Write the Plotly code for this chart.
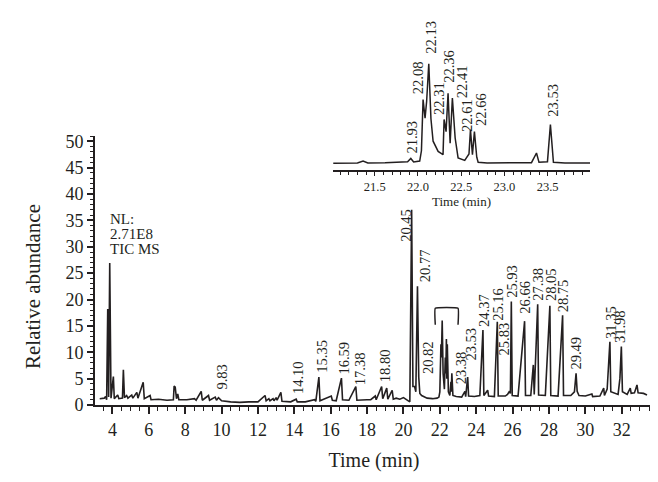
import plotly.graph_objects as go

# ---------------- data ----------------
main_rt = [3.30, 3.55, 3.62, 3.68, 3.74, 3.79, 3.85, 3.92, 4.05, 4.10, 4.29, 4.35, 4.55, 4.60, 4.66,
           4.78, 4.85, 5.06, 5.12, 5.34, 5.40, 5.69, 5.75, 6.07, 6.12, 6.53, 7.00, 7.35, 7.39, 7.45,
           7.52, 7.59, 7.65, 8.09, 8.51, 8.60, 8.88, 8.94, 9.28, 9.34, 9.65, 9.72, 9.83, 10.00, 10.50,
           11.00, 11.50, 12.00, 12.39, 12.45, 12.60, 12.66, 12.83, 12.88, 13.00, 13.05, 13.26, 13.32,
           13.80, 14.10, 14.16, 14.60, 15.11, 15.18, 15.35, 15.41, 16.03, 16.09, 16.30, 16.59, 16.65,
           17.00, 17.38, 17.44, 17.99, 18.20, 18.45, 18.50, 18.80, 18.86, 19.08, 19.14, 19.38, 19.44,
           19.60, 19.80, 20.00, 20.20, 20.35, 20.45, 20.52, 20.61, 20.68, 20.77, 20.84, 20.90, 21.00,
           21.30, 21.60, 21.85, 21.95, 22.00, 22.06, 22.085, 22.10, 22.13, 22.18, 22.25, 22.30, 22.33,
           22.36, 22.385, 22.41, 22.47, 22.55, 22.61, 22.63, 22.66, 22.72, 22.90, 23.20, 23.38, 23.42,
           23.53, 23.58, 23.90, 24.20, 24.37, 24.42, 24.63, 24.68, 25.00, 25.16, 25.21, 25.60, 25.72,
           25.83, 25.88, 25.93, 25.98, 26.30, 26.66, 26.71, 27.00, 27.14, 27.19, 27.38, 27.43, 27.80,
           28.05, 28.10, 28.50, 28.75, 28.80, 29.20, 29.40, 29.49, 29.55, 29.65, 30.00, 30.36, 30.40,
           30.80, 31.01, 31.05, 31.20, 31.35, 31.40, 31.80, 31.90, 31.98, 32.04, 32.30, 32.47, 32.52,
           32.70, 32.84, 32.90, 33.20, 33.39]
main_abund = [1.2, 1.3, 1.6, 1.0, 18.2, 1.5, 26.9, 1.3, 5.4, 1.2, 1.9, 1.2, 1.3, 6.7, 1.4,
              1.8, 1.3, 1.9, 1.3, 2.4, 1.3, 4.3, 1.2, 1.8, 1.0, 1.1, 0.9, 1.0, 3.6, 3.4,
              1.2, 2.1, 1.0, 1.0, 1.2, 0.9, 2.6, 0.9, 1.8, 0.9, 1.5, 0.9, 1.4, 0.8, 0.6,
              0.5, 0.6, 0.6, 1.8, 0.8, 1.2, 0.8, 1.2, 0.8, 1.4, 0.9, 2.4, 0.7,
              0.6, 1.1, 0.6, 0.6, 1.0, 0.7, 5.3, 0.8, 1.7, 0.9, 0.8, 5.1, 1.0,
              0.9, 3.5, 0.9, 1.0, 1.0, 1.7, 1.0, 3.5, 1.2, 3.2, 1.1, 2.8, 1.1,
              1.3, 1.1, 1.4, 1.0, 0.6, 37.0, 3.5, 3.5, 2.5, 22.5, 5.3, 2.2, 1.8,
              1.3, 1.2, 1.3, 1.5, 2.5, 11.5, 9.0, 11.0, 16.0, 6.0, 3.0, 9.0, 6.0,
              12.5, 5.0, 11.5, 2.5, 1.8, 4.4, 2.5, 6.0, 1.8, 1.6, 1.5, 2.6, 1.6,
              5.3, 1.7, 1.6, 1.8, 14.2, 1.8, 2.8, 1.7, 1.6, 15.8, 1.7, 1.7, 2.0,
              2.6, 2.2, 19.6, 1.8, 1.7, 15.9, 1.8, 1.8, 7.6, 2.0, 19.1, 1.9, 1.8,
              18.8, 1.8, 1.7, 17.0, 1.8, 1.8, 2.5, 6.0, 2.6, 1.8, 1.7, 2.1, 1.6,
              1.7, 3.2, 1.8, 3.0, 12.0, 2.5, 2.0, 5.0, 11.1, 2.5, 2.0, 3.2, 2.2,
              2.3, 3.8, 2.3, 2.2, 1.9]

inset_rt = [21.02, 21.30, 21.365, 21.42, 21.62, 21.80, 21.88, 21.917, 21.95, 22.02, 22.04, 22.059,
            22.082, 22.10, 22.125, 22.15, 22.175, 22.233, 22.29, 22.302, 22.325, 22.348, 22.372,
            22.398, 22.43, 22.464, 22.541, 22.59, 22.607, 22.63, 22.653, 22.68, 22.696, 22.80,
            23.00, 23.313, 23.371, 23.40, 23.498, 23.532, 23.567, 23.70, 23.99]
inset_abund = [1.05, 1.1, 1.4, 1.1, 1.15, 1.25, 1.3, 1.8, 1.25, 1.4, 3.0, 11.0,
               8.1, 10.7, 16.6, 8.0, 4.5, 2.9, 2.4, 7.9, 6.0, 12.0, 4.2,
               11.25, 5.0, 1.9, 1.5, 2.5, 6.3, 2.4, 6.0, 2.0, 1.2, 1.1,
               1.1, 1.15, 2.66, 1.2, 1.3, 7.1, 1.2, 1.1, 1.1]

main_label_text = ["9.83", "14.10", "15.35", "16.59", "17.38", "18.80", "20.45", "20.77", "20.82",
                   "23.38", "23.53", "24.37", "25.16", "25.83", "25.93", "26.66", "27.38", "28.05",
                   "28.75", "29.49", "31.35", "31.98"]
main_label_x = [10.01, 14.23, 15.51, 16.71, 17.62, 19.00, 20.10, 21.16, 21.38,
                23.21, 23.73, 24.45, 25.18, 25.55, 25.96, 26.70, 27.43, 28.11,
                28.75, 29.48, 31.37, 31.92]
main_label_y = [2.8, 1.9, 6.0, 5.6, 3.5, 4.1, 30.7, 23.1, 5.7,
                3.8, 8.2, 14.6, 15.8, 9.2, 20.2, 17.1, 19.6, 19.6,
                17.4, 6.6, 12.3, 11.5]

inset_label_text = ["21.93", "22.08", "22.13", "22.31", "22.36", "22.41", "22.61", "22.66", "23.53"]
inset_label_x = [21.935, 22.0, 22.155, 22.248, 22.363, 22.51, 22.56, 22.734, 23.564]
inset_label_y = [2.39, 11.77, 18.0, 8.44, 13.44, 11.0, 5.78, 6.72, 8.13]

bracket_x = [21.75, 21.75, 23.0, 23.0]
bracket_y = [15.2, 18.35, 18.35, 15.2]

nl_lines = ["NL:", "2.71E8", "TIC MS"]
nl_y = [35.2, 32.4, 29.5]

# ---------------- figure ----------------
FONT = "Liberation Serif"
INK = "#231f20"
W, H = 658, 482
ML, MR, MT, MB = 87, 13, 5, 85
PW, PH = W - ML - MR, H - MT - MB

fig = go.Figure()
fig.add_trace(go.Scatter(x=main_rt, y=main_abund, mode="lines",
                         line=dict(color=INK, width=1.6), xaxis="x", yaxis="y",
                         showlegend=False, hoverinfo="skip"))
fig.add_trace(go.Scatter(x=inset_rt, y=inset_abund, mode="lines",
                         line=dict(color=INK, width=1.5), xaxis="x2", yaxis="y2",
                         showlegend=False, hoverinfo="skip"))
fig.add_trace(go.Scatter(x=bracket_x, y=bracket_y, mode="lines",
                         line=dict(color=INK, width=1.5, shape="spline", smoothing=0.3),
                         xaxis="x", yaxis="y", showlegend=False, hoverinfo="skip"))

annotations = []
for t, x, y in zip(main_label_text, main_label_x, main_label_y):
    annotations.append(dict(text=t, x=x, y=y, xref="x", yref="y", showarrow=False,
                            textangle=-90, xanchor="center", yanchor="bottom",
                            font=dict(family=FONT, size=14.5, color=INK), borderpad=0))
for t, x, y in zip(inset_label_text, inset_label_x, inset_label_y):
    annotations.append(dict(text=t, x=x, y=y, xref="x2", yref="y2", showarrow=False,
                            textangle=-90, xanchor="center", yanchor="bottom",
                            font=dict(family=FONT, size=14.5, color=INK), borderpad=0))
for t, y in zip(nl_lines, nl_y):
    annotations.append(dict(text=t, x=3.80, y=y, xref="x", yref="y", showarrow=False,
                            xanchor="left", yanchor="middle",
                            font=dict(family=FONT, size=15, color=INK), borderpad=0))
# y-axis title (placed like the original, slightly below the axis centre)
annotations.append(dict(text="Relative abundance", xref="paper", yref="paper",
                        x=(25 - ML) / PW, y=(H - MB - 279) / PH, showarrow=False,
                        textangle=-90, xanchor="center", yanchor="middle",
                        font=dict(family=FONT, size=21, color=INK)))

axis_common = dict(showline=True, linecolor=INK, ticks="outside", tickcolor=INK,
                   showgrid=False, zeroline=False, automargin=False)

fig.update_layout(
    width=W, height=H,
    margin=dict(l=ML, r=MR, t=MT, b=MB),
    paper_bgcolor="white", plot_bgcolor="white",
    font=dict(family=FONT, color=INK),
    xaxis=dict(**axis_common, range=[3.04, 33.72], domain=[0, 1], anchor="y",
               linewidth=2, tickwidth=1.5, ticklen=7, dtick=2, tick0=4,
               tickfont=dict(size=18),
               minor=dict(dtick=0.5, tick0=4, ticklen=4, tickwidth=1.3, tickcolor=INK, ticks="outside"),
               title=dict(text="Time (min)", font=dict(size=20), standoff=14)),
    yaxis=dict(**axis_common, range=[0, 51], domain=[0, (H - MB - 128) / PH], anchor="x",
               linewidth=2, tickwidth=1.5, ticklen=6, dtick=5, tick0=0,
               tickfont=dict(size=18),
               minor=dict(dtick=1, ticklen=3, tickwidth=1.2, tickcolor=INK, ticks="outside")),
    xaxis2=dict(**axis_common, range=[21.017, 23.99],
                domain=[(325 - ML) / PW, (582 - ML) / PW], anchor="y2",
                linewidth=2, tickwidth=1.2, ticklen=4, dtick=0.5, tick0=21.5, tickformat=".1f",
                tickfont=dict(size=12.5),
                minor=dict(dtick=0.1, ticklen=3, tickwidth=1, tickcolor=INK, ticks="outside"),
                title=dict(text="Time (min)", font=dict(size=13), standoff=4)),
    yaxis2=dict(range=[0, 23.75], domain=[(H - MB - 162) / PH, (H - MB - 10) / PH],
                anchor="x2", visible=False),
    annotations=annotations,
)

fig.write_html("out.html")
